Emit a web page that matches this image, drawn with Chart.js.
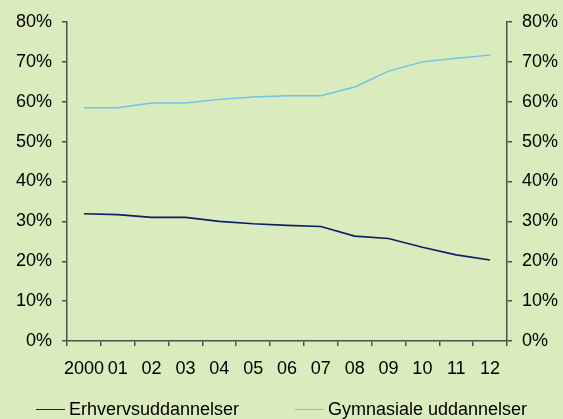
<!DOCTYPE html>
<html>
<head>
<meta charset="utf-8">
<script src="https://cdn.jsdelivr.net/npm/chart.js@4"></script>
<style>
  html, body { margin: 0; padding: 0; background: #DAEBBD; }
  #wrap { position: relative; width: 563px; height: 419px; }
  #legend {
    position: absolute; left: 0; top: 399px; width: 563px;
    display: flex; justify-content: center; gap: 56px;
    font: 18px "Liberation Sans", Arial, sans-serif; color: #000;
  }
  .item { display: flex; align-items: center; }
  .swatch { display: inline-block; width: 29px; height: 0; margin-right: 4px; }
</style>
</head>
<body>
<div id="wrap">
  <canvas id="chart" width="563" height="419"></canvas>
  <div id="legend"></div>
</div>
<script>
const years = ['2000', '01', '02', '03', '04', '05', '06', '07', '08', '09', '10', '11', '12'];
const erhverv = [31.9, 31.7, 31.0, 31.0, 30.0, 29.4, 29.0, 28.7, 26.3, 25.7, 23.5, 21.6, 20.3];
const gymnasiale = [58.5, 58.5, 59.7, 59.7, 60.6, 61.2, 61.5, 61.5, 63.7, 67.7, 70.0, 70.9, 71.7];
const seriesNames = ['Erhvervsuddannelser', 'Gymnasiale uddannelser'];
const seriesColors = ['#0B1F66', '#6EC3EA'];

Chart.defaults.font.family = '"Liberation Sans", Arial, sans-serif';
Chart.defaults.font.size = 18;
Chart.defaults.color = '#000';

const axisColor = '#505050';
const pct = v => v + '%';

const ctx = document.getElementById('chart').getContext('2d');
const chart = new Chart(ctx, {
    type: 'line',
    data: {
        labels: years,
        datasets: [{
            label: seriesNames[0],
            data: erhverv,
            borderColor: seriesColors[0],
            borderWidth: 1.6,
            pointRadius: 0,
            tension: 0,
            yAxisID: 'y'
        }, {
            label: seriesNames[1],
            data: gymnasiale,
            borderColor: seriesColors[1],
            borderWidth: 1.4,
            pointRadius: 0,
            tension: 0,
            yAxisID: 'y'
        }]
    },
    options: {
        responsive: false,
        animation: false,
        layout: { padding: { top: 22, left: 0, right: 0, bottom: 0 } },
        plugins: {
            legend: { display: false },
            tooltip: { enabled: false }
        },
        scales: {
            x: {
                offset: true,
                grid: { offset: true, drawOnChartArea: false, tickLength: 5, color: axisColor, lineWidth: 1.5 },
                border: { color: axisColor, width: 1.5 },
                ticks: { padding: 12, maxRotation: 0, autoSkip: false },
                afterFit: s => { s.height = 78; }
            },
            y: {
                position: 'left',
                min: 0, max: 80,
                ticks: { stepSize: 10, callback: pct, padding: 10 },
                grid: { drawOnChartArea: false, tickLength: 5, color: axisColor, lineWidth: 1.5 },
                border: { color: axisColor, width: 1.5 },
                afterFit: s => { s.width = 67; }
            },
            y2: {
                position: 'right',
                min: 0, max: 80,
                ticks: { stepSize: 10, callback: pct, padding: 10 },
                grid: { drawOnChartArea: false, tickLength: 5, color: axisColor, lineWidth: 1.5 },
                border: { color: axisColor, width: 1.5 },
                afterFit: s => { s.width = 56; }
            }
        }
    }
});

// legend as html, built from the datasets
const legend = document.getElementById('legend');
chart.data.datasets.forEach(ds => {
    const item = document.createElement('div');
    item.className = 'item';
    const sw = document.createElement('span');
    sw.className = 'swatch';
    sw.style.borderTop = '1.5px solid ' + ds.borderColor;
    item.appendChild(sw);
    item.appendChild(document.createTextNode(ds.label));
    legend.appendChild(item);
});
</script>
</body>
</html>
